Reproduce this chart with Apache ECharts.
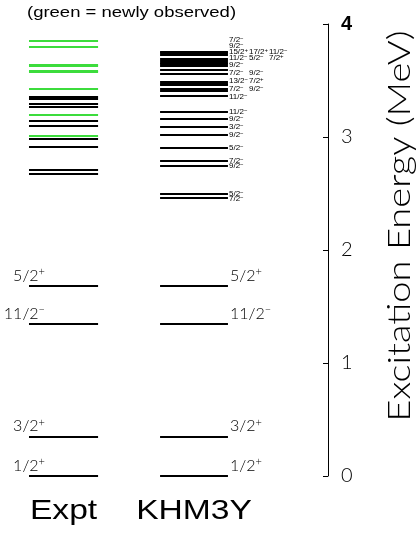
<!DOCTYPE html>
<html><head><meta charset="utf-8">
<script src="https://cdn.jsdelivr.net/npm/echarts@6/dist/echarts.min.js"></script>
<style>html,body{margin:0;padding:0;background:#fff}#c{width:417px;height:533px}</style>
</head><body><div id="c"></div>
<script>
// ---------- data ----------
const columnNames = ['Expt', 'KHM3Y'];
const yTicks = [0, 1, 2, 3, 4];
const titleText = '(green = newly observed)';
const axisTitle = 'Excitation Energy (MeV)';

// Experimental levels (MeV); 1 = newly observed (green)
const exptEnergy = [0.000, 0.348, 1.345, 1.681, 2.673, 2.705, 2.909, 2.985, 3.009, 3.100, 3.139, 3.195, 3.268, 3.292, 3.336, 3.357, 3.427, 3.578, 3.588, 3.630, 3.640, 3.796, 3.852];
const exptNew    = [0, 0, 0, 0, 0, 0, 0, 0, 1, 0, 0, 1, 0, 0, 0, 0, 1, 1, 1, 1, 1, 1, 1];
const exptSpin   = ['1/2+', '3/2+', '11/2-', '5/2+'];
const exptSpinEnergy = [0.000, 0.348, 1.345, 1.681];

// KHM3Y levels (MeV)
const khmEnergy = [0.000, 0.348, 1.345, 1.681, 2.460, 2.496, 2.743, 2.788, 2.903, 3.018, 3.088, 3.159, 3.221,
  3.363, 3.403, 3.425, 3.460, 3.473, 3.487, 3.558, 3.593, 3.628, 3.646, 3.659, 3.673, 3.686, 3.726, 3.739, 3.752];
// spin labels, their label energy (MeV) and label column
const khmSpin = ['1/2+', '3/2+', '11/2-', '5/2+', '7/2-', '5/2-', '9/2-', '7/2-', '5/2-', '9/2-', '3/2-', '9/2-', '11/2-',
  '11/2-', '9/2-', '7/2-', '7/2+', '13/2-', '9/2-', '7/2-', '9/2-', '7/2+', '5/2-', '11/2-', '11/2-', '17/2+', '15/2+', '9/2-', '7/2-'];
const khmLabelEnergy = [0.000, 0.348, 1.345, 1.681, 2.450, 2.500, 2.743, 2.788, 2.903, 3.018, 3.088, 3.159, 3.221,
  3.354, 3.425, 3.425, 3.496, 3.496, 3.566, 3.566, 3.637, 3.699, 3.699, 3.699, 3.752, 3.752, 3.752, 3.805, 3.858];
const khmLabelCol = [0, 0, 0, 0, 0, 0, 0, 0, 0, 0, 0, 0, 0,
  0, 1, 0, 1, 0, 1, 0, 0, 2, 1, 0, 2, 1, 0, 0, 0];

// ---------- layout ----------
const COLS = [[0.884, 2.99], [4.88, 6.95]]; // x-extent of each column (x axis units)
const GREEN = '#3cdc3c';
const THIN = 'Lato';
const THINW = 300;

// '5/2+' -> rich text with raised sign
function spinRich(s, key) {
  const sign = s.slice(-1) === '+' ? '+' : '\u2212';
  return s.slice(0, -1) + '{' + key + '|' + sign + '}';
}

const levelData = [];
exptEnergy.forEach((e, i) => levelData.push([e, 0, exptNew[i]]));
khmEnergy.forEach(e => levelData.push([e, 1, 0]));

const labelData = [];
const labelText = [];
exptSpinEnergy.forEach((e, i) => { labelData.push([e, 0, 0]); labelText.push(exptSpin[i]); });
khmLabelEnergy.forEach((e, i) => { labelData.push([e, 1, khmLabelCol[i]]); labelText.push(khmSpin[i]); });
const bigLow = 1.9; // labels below this energy are drawn large

const bigRich = {s: {fontFamily: THIN, fontWeight: THINW, fontSize: 11, verticalAlign: 'top', fill: '#000', padding: [0, 0, 8, 0]}};
const smallRich = {t: {fontFamily: 'Liberation Sans', fontSize: 6, verticalAlign: 'top', fill: '#000', padding: [0, 0, 3, 0]}};

const chart = echarts.init(document.getElementById('c'), null, {renderer: 'canvas'});
chart.setOption({
  animation: false,
  backgroundColor: '#fff',
  grid: {left: 0, right: 89, top: 24, bottom: 57, containLabel: false, outerBoundsMode: 'none'},
  xAxis: {type: 'value', min: 0, max: 10, show: false},
  yAxis: {
    type: 'value', position: 'right', min: 0, max: 4, interval: 1,
    axisLine: {show: true, onZero: false, lineStyle: {color: '#000', width: 1}},
    axisTick: {show: true, inside: true, length: 5, lineStyle: {color: '#000'}},
    splitLine: {show: false},
    axisLabel: {
      margin: 13, color: '#000', fontFamily: THIN, fontWeight: THINW, fontSize: 20,
      formatter: v => v === 4 ? '{t|4}' : String(v),
      rich: {t: {fontFamily: 'Liberation Sans', fontWeight: 'bold', fontSize: 20, color: '#000'}}
    }
  },
  graphic: [
    {type: 'text', x: 27, y: 13, scaleX: 1.32, silent: true,
      style: {text: titleText, align: 'left', verticalAlign: 'middle', fontFamily: 'Liberation Sans', fontSize: 14, fill: '#000'}},
    {type: 'text', x: 400, y: 226, rotation: Math.PI / 2, scaleX: 1.19, silent: true,
      style: {text: axisTitle, align: 'center', verticalAlign: 'middle', fontFamily: THIN, fontWeight: THINW, fontSize: 32, fill: '#000'}}
  ],
  series: [
    {
      type: 'custom', data: levelData, encode: {y: 0}, clip: false,
      renderItem: (params, api) => {
        const e = api.value(0), c = api.value(1), n = api.value(2);
        const p0 = api.coord([COLS[c][0], e]), p1 = api.coord([COLS[c][1], e]);
        const y = Math.round(p0[1]);
        return {type: 'line', shape: {x1: p0[0], y1: y, x2: p1[0], y2: y},
          style: {stroke: n ? GREEN : '#000', lineWidth: 2}};
      }
    },
    {
      type: 'custom', data: labelData, encode: {y: 0}, clip: false,
      renderItem: (params, api) => {
        const e = api.value(0), c = api.value(1), lc = api.value(2);
        const raw = labelText[params.dataIndex];
        const big = e < bigLow;
        let p;
        if (c === 0) {
          p = api.coord([COLS[0][0], e]);
          return {type: 'text', x: p[0] + 16, y: p[1] - 1,
            style: {text: spinRich(raw, 's'), rich: bigRich, align: 'right', verticalAlign: 'bottom', fontFamily: THIN, fontWeight: THINW, fontSize: 16, fill: '#000'}};
        }
        p = api.coord([COLS[1][1], e]);
        if (big) {
          return {type: 'text', x: p[0] + 2, y: p[1] - 1,
            style: {text: spinRich(raw, 's'), rich: bigRich, align: 'left', verticalAlign: 'bottom', fontFamily: THIN, fontWeight: THINW, fontSize: 16, fill: '#000'}};
        }
        return {type: 'text', x: p[0] + 1 + lc * 20, y: p[1],
          style: {text: spinRich(raw, 't'), rich: smallRich, align: 'left', verticalAlign: 'middle', fontFamily: 'Liberation Sans', fontSize: 8, fill: '#000'}};
      }
    },
    {
      type: 'custom', data: columnNames.map((n, i) => [0, i]), encode: {y: 0}, clip: false,
      renderItem: (params, api) => {
        const c = api.value(1);
        const p = api.coord([(COLS[c][0] + COLS[c][1]) / 2, 0]);
        return {type: 'text', x: p[0], y: p[1] + 35, scaleX: 1.2, scaleY: 1,
          style: {text: columnNames[c], align: 'center', verticalAlign: 'middle', fontFamily: 'Liberation Sans', fontSize: 28, fill: '#000'}};
      }
    }
  ]
});
</script></body></html>
